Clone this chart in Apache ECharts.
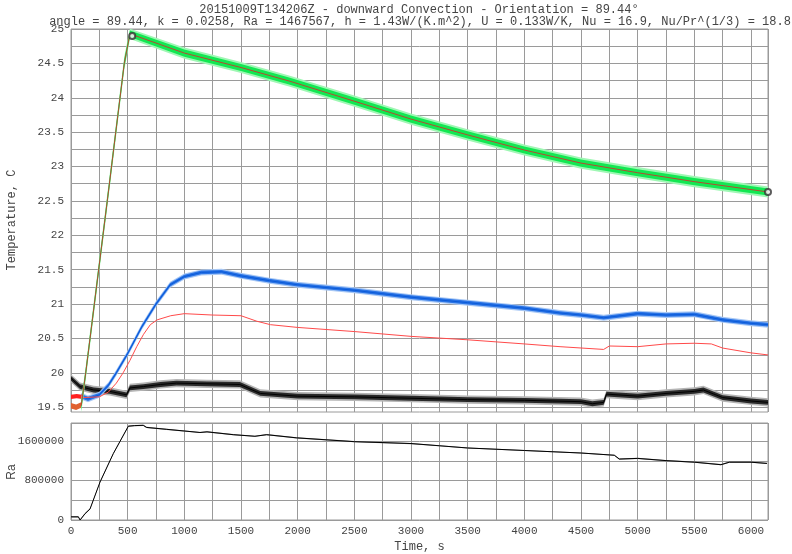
<!DOCTYPE html>
<html><head><meta charset="utf-8">
<script src="https://cdn.jsdelivr.net/npm/echarts@6/dist/echarts.min.js"></script>
<style>html,body{margin:0;padding:0;background:#fff}#c{width:792px;height:554px}</style>
</head><body><div id="c"></div>
<script>
// ---------- text ----------
const titleLine1 = '20151009T134206Z - downward Convection - Orientation = 89.44°';
const titleLine2 = 'angle = 89.44, k = 0.0258, Ra = 1467567, h = 1.43W/(K.m^2), U = 0.133W/K, Nu = 16.9, Nu/Pr^(1/3) = 18.8';
const tempAxisName = 'Temperature, C';
const raAxisName = 'Ra';
const timeAxisName = 'Time, s';

// ---------- ticks ----------
const tempLabels = [19.5, 20, 20.5, 21, 21.5, 22, 22.5, 23, 23.5, 24, 24.5, 25];
const tempGridVals = [19.5, 19.75, 20, 20.25, 20.5, 20.75, 21, 21.25, 21.5, 21.75, 22, 22.25, 22.5, 22.75, 23, 23.25, 23.5, 23.75, 24, 24.25, 24.5, 24.75, 25];
const timeLabels = [0, 500, 1000, 1500, 2000, 2500, 3000, 3500, 4000, 4500, 5000, 5500, 6000];
const raLabels = [0, 800000, 1600000];

// ---------- data: [time s, value]; *Amp = visible noise half-width ----------
const orangeStart = [[0, 19.52], [45, 19.5], [90, 19.53]];
const orangeAmp = [0.04, 0.04, 0.04];
const redStart = [[0, 19.65], [50, 19.66], [100, 19.65]];
const redStartAmp = [0.03, 0.03, 0.03];

const greenPts = [[90, 19.52], [130, 20.0], [320, 22.5], [470, 24.5], [520, 24.93], [1000, 24.65], [1500, 24.44], [1932, 24.24], [2500, 23.95], [3000, 23.69], [3500, 23.46], [4000, 23.24], [4500, 23.05], [5000, 22.91], [5500, 22.78], [6150, 22.63]];
const greenAmp = [0.08, 0.08, 0.08, 0.08, 0.06, 0.065, 0.065, 0.065, 0.065, 0.065, 0.065, 0.065, 0.065, 0.065, 0.065, 0.065];
const peakMarks = [[540, 24.9], [6150, 22.63]];

const bluePts = [[90, 19.66], [150, 19.62], [250, 19.68], [330, 19.82], [400, 20.0], [500, 20.28], [625, 20.67], [750, 21.0], [875, 21.28], [1000, 21.4], [1150, 21.46], [1330, 21.47], [1500, 21.41], [1750, 21.34], [2000, 21.28], [2500, 21.2], [3000, 21.1], [3500, 21.02], [4000, 20.94], [4315, 20.87], [4500, 20.84], [4700, 20.8], [5000, 20.86], [5250, 20.84], [5500, 20.85], [5750, 20.77], [6000, 20.72], [6150, 20.7]];
const blueAmp = [0.04, 0.04, 0.035, 0.035, 0.035, 0.035, 0.035, 0.035, 0.035, 0.035, 0.035, 0.035, 0.035, 0.035, 0.035, 0.035, 0.035, 0.035, 0.035, 0.035, 0.035, 0.035, 0.035, 0.035, 0.035, 0.035, 0.035, 0.035];

const redPts = [[100, 19.64], [250, 19.65], [330, 19.72], [400, 19.85], [460, 20.0], [520, 20.18], [580, 20.38], [640, 20.56], [700, 20.7], [760, 20.77], [880, 20.83], [1000, 20.86], [1250, 20.84], [1500, 20.83], [1640, 20.75], [1760, 20.7], [2000, 20.66], [2500, 20.6], [3000, 20.53], [3500, 20.48], [4000, 20.42], [4315, 20.38], [4700, 20.34], [4750, 20.39], [5000, 20.38], [5250, 20.42], [5500, 20.43], [5650, 20.42], [5750, 20.36], [6000, 20.29], [6150, 20.26]];

const blackPts = [[0, 19.92], [80, 19.8], [200, 19.75], [340, 19.73], [490, 19.68], [520, 19.78], [640, 19.8], [790, 19.83], [930, 19.85], [1200, 19.84], [1490, 19.83], [1670, 19.7], [2000, 19.66], [2500, 19.65], [3000, 19.63], [3500, 19.61], [4000, 19.6], [4500, 19.58], [4600, 19.55], [4700, 19.57], [4725, 19.69], [5000, 19.66], [5250, 19.7], [5500, 19.73], [5580, 19.75], [5750, 19.64], [6000, 19.59], [6150, 19.57]];
const blackAmp = [0.05, 0.05, 0.05, 0.05, 0.05, 0.05, 0.05, 0.05, 0.05, 0.05, 0.05, 0.05, 0.05, 0.05, 0.05, 0.05, 0.05, 0.05, 0.05, 0.05, 0.05, 0.05, 0.05, 0.05, 0.05, 0.05, 0.05, 0.05];

const raPts = [[0, 64000], [65, 64000], [80, 0], [124, 128000], [168, 224000], [256, 768000], [373, 1344000], [506, 1900000], [560, 1912000], [638, 1918000], [667, 1875000], [844, 1837000], [1138, 1773000], [1200, 1786000], [1432, 1728000], [1623, 1696000], [1726, 1728000], [1991, 1664000], [2500, 1587000], [3000, 1549000], [3250, 1504000], [3500, 1459000], [4000, 1408000], [4500, 1357000], [4794, 1312000], [4838, 1235000], [5000, 1248000], [5250, 1203000], [5500, 1171000], [5735, 1120000], [5809, 1171000], [6000, 1171000], [6141, 1146000]];
const raAmp = raPts.map(() => 12000);

// ---------- build ----------
const MONO = '"Liberation Mono", "DejaVu Sans Mono", monospace';
// noise band drawn through the axes' own scale; 'spread' widens an outer halo layer
function band(pts, amps, color, z, spread, axis) {
  const ax = axis || 0;
  return {
    type: 'custom', xAxisIndex: ax, yAxisIndex: ax, z: z, silent: true, clip: true,
    data: pts.map((p, i) => [p[0], p[1], amps[i]]),
    encode: { x: 0, y: 1 },
    renderItem: function (params, api) {
      if (params.dataIndex !== 0) return null;
      const up = pts.map((p, i) => api.coord([p[0], p[1] + amps[i] * spread]));
      const lo = pts.map((p, i) => api.coord([p[0], p[1] - amps[i] * spread])).reverse();
      return { type: 'polygon', shape: { points: up.concat(lo) }, style: { fill: color } };
    }
  };
}
function line(pts, color, width, z, axis) {
  const ax = axis || 0;
  return { type: 'line', data: pts, symbol: 'none', lineStyle: { color: color, width: width }, silent: true, z: z, xAxisIndex: ax, yAxisIndex: ax };
}
const plain = v => String(v);
const gridColor = '#9a9a9a';
const labelColor = '#444';
const series = [
  band(blackPts, blackAmp, '#b5b5b5', 2, 1.2), band(blackPts, blackAmp, '#2a2a2a', 2, 0.7), line(blackPts, '#000', 1, 3),
  band(bluePts, blueAmp, '#a8c8f5', 4, 1.25), band(bluePts, blueAmp, '#2a74e6', 4, 0.75), line(bluePts, '#0a5ad8', 1, 5),
  line(redPts, '#ff4a4a', 1, 6),
  band(redStart, redStartAmp, '#ff2020', 6, 1),
  band(orangeStart, orangeAmp, '#e06030', 6, 1),
  band(greenPts, greenAmp, '#9ff7b4', 7, 1.25), band(greenPts, greenAmp, '#12e852', 7, 0.8), line(greenPts, '#b44a30', 1, 8),
  { type: 'scatter', data: peakMarks, symbol: 'emptyCircle', symbolSize: 6, itemStyle: { color: '#333', borderColor: '#333' }, z: 9, silent: true, xAxisIndex: 0, yAxisIndex: 0 },
  band(raPts, raAmp, '#888', 2, 1, 1),
  line(raPts, '#000', 1, 3, 1)
];

const chart = echarts.init(document.getElementById('c'), null, { renderer: 'canvas' });
chart.setOption({
  animation: false,
  backgroundColor: '#fff',
  grid: [
    { left: 71, right: 24, top: 29, height: 383, show: true, borderColor: gridColor, borderWidth: 1 },
    { left: 71, right: 24, top: 423, height: 102, show: true, borderColor: gridColor, borderWidth: 1 }
  ],
  xAxis: [
    { type: 'value', gridIndex: 0, min: 0, max: 6150, interval: 250, axisLine: { show: false }, axisTick: { show: false }, axisLabel: { show: false }, splitLine: { show: true, lineStyle: { color: gridColor, width: 1 } } },
    { type: 'value', gridIndex: 1, min: 0, max: 6150, interval: 250, axisLine: { show: false }, axisTick: { show: false },
      axisLabel: { customValues: timeLabels, formatter: plain, color: labelColor, fontFamily: MONO, fontSize: 11, margin: 6 },
      splitLine: { show: true, lineStyle: { color: gridColor, width: 1 } },
      name: timeAxisName, nameLocation: 'middle', nameGap: 21, nameTextStyle: { fontFamily: MONO, fontSize: 12, color: labelColor } }
  ],
  yAxis: [
    { type: 'value', gridIndex: 0, min: 19.43, max: 25, axisLine: { show: false },
      axisTick: { show: false, customValues: tempGridVals },
      axisLabel: { customValues: tempLabels, formatter: plain, color: labelColor, fontFamily: MONO, fontSize: 11, margin: 7 },
      splitLine: { show: true, lineStyle: { color: gridColor, width: 1 } } },
    { type: 'value', gridIndex: 1, min: 0, max: 1965000, interval: 400000, axisLine: { show: false }, axisTick: { show: false },
      axisLabel: { customValues: raLabels, formatter: plain, color: labelColor, fontFamily: MONO, fontSize: 11, margin: 7 },
      splitLine: { show: true, lineStyle: { color: gridColor, width: 1 } } }
  ],
  graphic: [
    { type: 'text', x: 419, y: 10, style: { text: titleLine1, fill: '#444', font: '12px ' + MONO, textAlign: 'center', textVerticalAlign: 'middle' } },
    { type: 'text', x: 420, y: 22, style: { text: titleLine2, fill: '#444', font: '12px ' + MONO, textAlign: 'center', textVerticalAlign: 'middle' } },
    { type: 'text', x: 12, y: 220, rotation: Math.PI / 2, style: { text: tempAxisName, fill: '#444', font: '12px ' + MONO, textAlign: 'center', textVerticalAlign: 'middle' } },
    { type: 'text', x: 12, y: 472, rotation: Math.PI / 2, style: { text: raAxisName, fill: '#444', font: '12px "Liberation Sans", Arial, sans-serif', textAlign: 'center', textVerticalAlign: 'middle' } }
  ],
  series: series
});
</script>
</body></html>
